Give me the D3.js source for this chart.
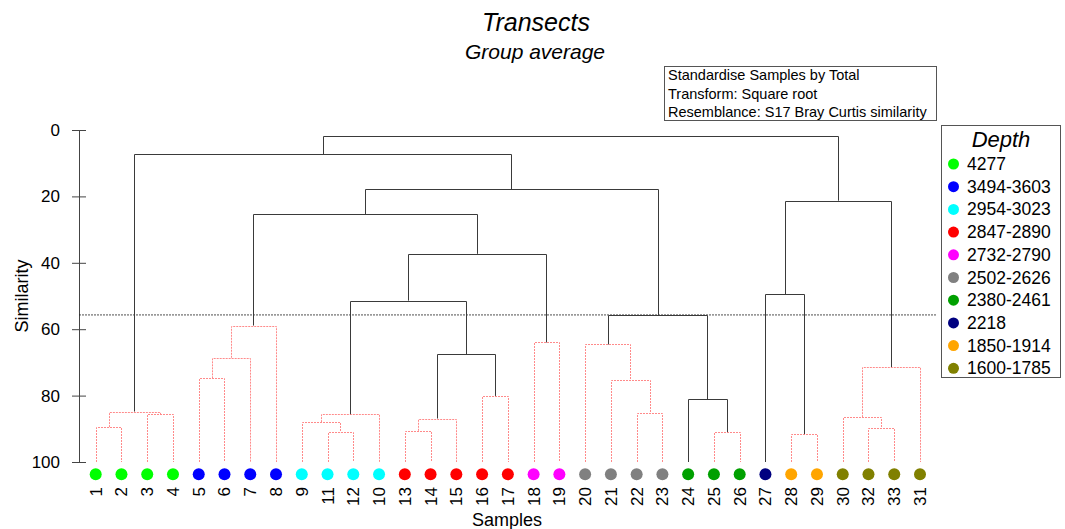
<!DOCTYPE html>
<html>
<head>
<meta charset="utf-8">
<script src="https://cdn.jsdelivr.net/npm/d3@7"></script>
<style>
  body { margin: 0; background: #fff; }
  svg { display: block; font-family: Arial, "Liberation Sans", sans-serif; }
</style>
</head>
<body>
<svg id="chart" width="1065" height="529"></svg>
<script>
// ---- Data ----
const leafOrder = ["1","2","3","4","5","6","7","8","9","11","12","10","13","14","15","16","17","18","19","20","21","22","23","24","25","26","27","28","29","30","32","33","31"];
const leafDepth = ["4277","4277","4277","4277","3494-3603","3494-3603","3494-3603","3494-3603","2954-3023","2954-3023","2954-3023","2954-3023","2847-2890","2847-2890","2847-2890","2847-2890","2847-2890","2732-2790","2732-2790","2502-2626","2502-2626","2502-2626","2502-2626","2380-2461","2380-2461","2380-2461","2218","1850-1914","1850-1914","1600-1785","1600-1785","1600-1785","1600-1785"];
const depthGroups = ["4277","3494-3603","2954-3023","2847-2890","2732-2790","2502-2626","2380-2461","2218","1850-1914","1600-1785"];
const depthColors = ["#00ff00","#0000ff","#00ffff","#ff0000","#ff00ff","#808080","#00a000","#000080","#ffa500","#808000"];

// merges: child A, child B (leaf label or "m#"), similarity, significant (SIMPROF) flag
const mergeA   = ["1","3","m1","5","m4","m5","11","9","m8","13","m10","16","m11","m9","18","m14","m6","22","21","20","25","24","m20","m17","m3","28","27","32","30","m29","m27","m25"];
const mergeB   = ["2","4","m2","6","7","8","12","m7","10","14","15","17","m12","m13","19","m15","m16","23","m18","m19","26","m21","m22","m23","m24","29","m26","33","m28","31","m30","m31"];
const mergeSim = [89.5,85.6,84.8,74.8,68.6,58.9,91.0,88.0,85.6,90.6,86.9,80.1,67.6,51.4,64.0,37.3,25.3,85.1,75.4,64.6,91.0,81.1,55.8,17.8,7.3,91.6,49.5,89.9,86.5,71.4,21.3,1.8];
const mergeSig = [0,0,0,0,0,0,0,0,0,0,0,0,1,1,0,1,1,0,0,0,0,1,1,1,1,0,1,0,0,0,1,1];

const yTicks = [0,20,40,60,80,100];
const cutLevel = 55.7;
const infoLines = ["Standardise Samples by Total","Transform: Square root","Resemblance: S17 Bray Curtis similarity"];

// ---- Scales ----
const svg = d3.select("#chart");
const x = d3.scalePoint().domain(leafOrder).range([95.7, 920]);
const y = d3.scaleLinear().domain([0, 100]).range([130, 462]);
const color = d3.scaleOrdinal().domain(depthGroups).range(depthColors);

// ---- Titles ----
svg.append("text").attr("x", 536).attr("y", 31).attr("text-anchor", "middle")
  .attr("font-size", 25).attr("font-style", "italic").text("Transects");
svg.append("text").attr("x", 535).attr("y", 59).attr("text-anchor", "middle")
  .attr("font-size", 21).attr("font-style", "italic").text("Group average");

// ---- Info box ----
const info = svg.append("g");
info.append("rect").attr("x", 664.5).attr("y", 66.5).attr("width", 272).attr("height", 54)
  .attr("fill", "#fff").attr("stroke", "#555");
info.selectAll("text").data(infoLines).join("text")
  .attr("x", 668).attr("y", (d, i) => 80 + i * 18.5)
  .attr("font-size", 14.5).text(d => d);

// ---- Y axis ----
const yAxis = svg.append("g").attr("transform", "translate(79,0)")
  .call(d3.axisLeft(y).tickValues(yTicks).tickSize(7).tickPadding(12).tickSizeOuter(0));
yAxis.select(".domain").attr("stroke", "#444");
yAxis.selectAll(".tick line").attr("x1", 7).attr("x2", -7).attr("stroke", "#444");
yAxis.selectAll(".tick text").attr("font-size", 17).attr("fill", "#000")
  .attr("font-family", "Arial, 'Liberation Sans', sans-serif");
svg.append("text").attr("transform", "translate(28,296) rotate(-90)")
  .attr("text-anchor", "middle").attr("font-size", 18).text("Similarity");

// ---- Build tree ----
const nodes = {};
leafOrder.forEach(l => { nodes[l] = { x: x(l), sim: 100 }; });
mergeA.forEach((a, i) => {
  const A = nodes[a], B = nodes[mergeB[i]];
  nodes["m" + (i + 1)] = { x: (A.x + B.x) / 2, sim: mergeSim[i], a: A, b: B, sig: mergeSig[i] };
});

// ---- Cut line ----
svg.append("line").attr("x1", 79).attr("x2", 937).attr("y1", y(cutLevel)).attr("y2", y(cutLevel))
  .attr("stroke", "#222").attr("stroke-width", 0.8).attr("stroke-dasharray", "2,1");

// ---- Dendrogram links ----
const links = svg.append("g").attr("fill", "none");
const mergeNodes = mergeA.map((_, i) => nodes["m" + (i + 1)]);
const ordered = mergeNodes.slice().sort((p, q) => p.sig - q.sig);
links.selectAll("path").data(ordered).join("path")
  .attr("d", n => `M${Math.round(n.a.x) + 0.5},${y(n.a.sim)}V${Math.round(y(n.sim)) + 0.5}H${Math.round(n.b.x) + 0.5}V${y(n.b.sim)}`)
  .attr("stroke", n => n.sig ? "#3a3a3a" : "#ff8a8a")
  .attr("stroke-width", 1)
  .attr("stroke-dasharray", n => n.sig ? null : "2,1");

// ---- Leaf dots & labels ----
svg.append("g").selectAll("circle").data(leafOrder).join("circle")
  .attr("cx", d => x(d)).attr("cy", 474.3).attr("r", 6)
  .attr("fill", (d, i) => color(leafDepth[i]));
svg.append("g").selectAll("text").data(leafOrder).join("text")
  .attr("transform", d => `translate(${x(d) + 6},487) rotate(-90)`)
  .attr("text-anchor", "end").attr("font-size", 17).text(d => d);
svg.append("text").attr("x", 507).attr("y", 526).attr("text-anchor", "middle")
  .attr("font-size", 18).text("Samples");

// ---- Legend ----
const lg = svg.append("g");
lg.append("rect").attr("x", 941.5).attr("y", 125.5).attr("width", 119).attr("height", 252)
  .attr("fill", "#fff").attr("stroke", "#555");
lg.append("text").attr("x", 1001).attr("y", 147).attr("text-anchor", "middle")
  .attr("font-size", 22).attr("font-style", "italic").text("Depth");
const items = lg.selectAll("g.item").data(depthGroups).join("g").attr("class", "item")
  .attr("transform", (d, i) => `translate(0,${164 + i * 22.7})`);
items.append("circle").attr("cx", 953.5).attr("cy", 0).attr("r", 5.5).attr("fill", d => color(d));
items.append("text").attr("x", 967).attr("y", 6).attr("font-size", 17.5).text(d => d);
</script>
</body>
</html>
